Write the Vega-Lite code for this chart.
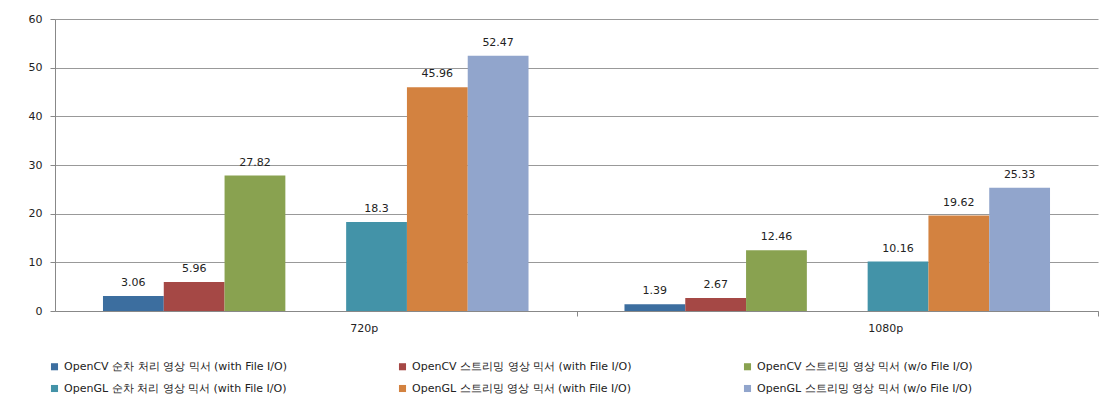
{
  "$schema": "https://vega.github.io/schema/vega-lite/v6.json",
  "width": 1043,
  "height": 292,
  "autosize": {"type": "none"},
  "padding": {"left": 55, "top": 19, "right": 8, "bottom": 106},
  "background": "white",
  "config": {
    "view": {"stroke": null},
    "font": "DejaVu Sans",
    "axis": {"labelFont": "DejaVu Sans", "labelFontSize": 11, "labelColor": "#222", "domainColor": "#888", "tickColor": "#888"},
    "legend": {"labelFont": "DejaVu Sans", "labelFontSize": 11, "labelColor": "#222"}
  },
  "data": {
    "values": [
      {"res": "720p", "series": "OpenCV 순차 처리 영상 믹서 (with File I/O)", "fps": 3.06},
      {"res": "720p", "series": "OpenCV 스트리밍 영상 믹서 (with File I/O)", "fps": 5.96},
      {"res": "720p", "series": "OpenCV 스트리밍 영상 믹서 (w/o File I/O)", "fps": 27.82},
      {"res": "720p", "series": "OpenGL 순차 처리 영상 믹서 (with File I/O)", "fps": 18.3},
      {"res": "720p", "series": "OpenGL 스트리밍 영상 믹서 (with File I/O)", "fps": 45.96},
      {"res": "720p", "series": "OpenGL 스트리밍 영상 믹서 (w/o File I/O)", "fps": 52.47},
      {"res": "1080p", "series": "OpenCV 순차 처리 영상 믹서 (with File I/O)", "fps": 1.39},
      {"res": "1080p", "series": "OpenCV 스트리밍 영상 믹서 (with File I/O)", "fps": 2.67},
      {"res": "1080p", "series": "OpenCV 스트리밍 영상 믹서 (w/o File I/O)", "fps": 12.46},
      {"res": "1080p", "series": "OpenGL 순차 처리 영상 믹서 (with File I/O)", "fps": 10.16},
      {"res": "1080p", "series": "OpenGL 스트리밍 영상 믹서 (with File I/O)", "fps": 19.62},
      {"res": "1080p", "series": "OpenGL 스트리밍 영상 믹서 (w/o File I/O)", "fps": 25.33}
    ]
  },
  "encoding": {
    "x": {
      "field": "res", "type": "nominal", "sort": ["720p", "1080p"],
      "scale": {"paddingInner": 0.184, "paddingOuter": 0.092},
      "axis": {"title": null, "labelAngle": 0, "bandPosition": 1, "tickOffset": 48, "tickSize": 5, "labelPadding": 6, "grid": false}
    },
    "xOffset": {
      "field": "series", "type": "nominal",
      "scale": {
        "domain": [
          "OpenCV 순차 처리 영상 믹서 (with File I/O)",
          "OpenCV 스트리밍 영상 믹서 (with File I/O)",
          "OpenCV 스트리밍 영상 믹서 (w/o File I/O)",
          " ",
          "OpenGL 순차 처리 영상 믹서 (with File I/O)",
          "OpenGL 스트리밍 영상 믹서 (with File I/O)",
          "OpenGL 스트리밍 영상 믹서 (w/o File I/O)"
        ],
        "paddingInner": 0, "paddingOuter": 0
      }
    },
    "y": {
      "field": "fps", "type": "quantitative",
      "scale": {"domain": [0, 60], "nice": false},
      "axis": {"title": null, "values": [0, 10, 20, 30, 40, 50, 60], "gridColor": "#999", "tickSize": 5, "labelPadding": 8}
    }
  },
  "layer": [
    {
      "mark": {"type": "bar"},
      "encoding": {
        "color": {
          "field": "series", "type": "nominal",
          "scale": {
            "domain": [
              "OpenCV 순차 처리 영상 믹서 (with File I/O)",
              "OpenGL 순차 처리 영상 믹서 (with File I/O)",
              "OpenCV 스트리밍 영상 믹서 (with File I/O)",
              "OpenGL 스트리밍 영상 믹서 (with File I/O)",
              "OpenCV 스트리밍 영상 믹서 (w/o File I/O)",
              "OpenGL 스트리밍 영상 믹서 (w/o File I/O)"
            ],
            "range": ["#3C6E9F", "#4393A8", "#A54845", "#D38240", "#89A250", "#91A5CC"]
          },
          "legend": {
            "title": null, "orient": "none", "legendX": -6, "legendY": 342,
            "columns": 3, "columnPadding": 110, "rowPadding": 10, "labelLimit": 500,
            "symbolType": "square", "symbolSize": 50, "symbolStrokeWidth": 0, "labelOffset": 4
          }
        }
      }
    },
    {
      "mark": {"type": "text", "dy": -13, "fontSize": 11, "color": "#222", "font": "DejaVu Sans"},
      "encoding": {"text": {"field": "fps", "type": "quantitative"}}
    }
  ]
}
